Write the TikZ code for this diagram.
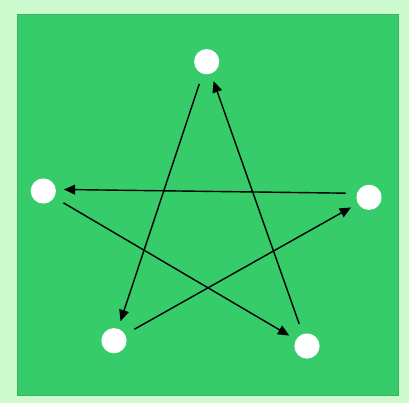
\documentclass[tikz,border=0pt]{standalone}
\usepackage{xcolor}
\usepackage{tikz}
\usetikzlibrary{arrows.meta}

\definecolor{panelbg}{RGB}{204,250,204}
\definecolor{fieldgreen}{RGB}{54,204,106}
\definecolor{fieldedge}{RGB}{60,180,100}

\begin{document}
\begin{tikzpicture}[
        x=0.025cm,
        y=-0.025cm,
        dot/.style={
            circle,
            fill=white,
            inner sep=0pt,
            minimum size=0.63cm
        },
        arrow/.style={
            -{Triangle[length=8pt, width=7pt]},
            line width=1pt,
            draw=black,
            shorten <=7.5pt,
            shorten >=5.5pt
        }
    ]
        % Background panels
        \useasboundingbox (0,0) rectangle (409,403);
        \fill [panelbg] (0,0) rectangle (409,403);
        \filldraw [fill=fieldgreen, draw=fieldedge, line width=0.6pt] (17,14) rectangle (398,395);

        % Points of the star
        \node (top) [dot] at (206.7,61.7) {};
        \node (left) [dot] at (43.3,191) {};
        \node (right) [dot] at (369,197.3) {};
        \node (botleft) [dot] at (114,340.7) {};
        \node (botright) [dot] at (307,346) {};

        % Connections
        \draw [arrow] (top) -- (botleft);
        \draw [arrow] (botleft) -- (right);
        \draw [arrow] ([yshift=0.1cm]right.west) -- ([yshift=0.04cm]left.east);
        \draw [arrow] (left) -- (botright);
        \draw [arrow] (botright) -- (top);
    \end{tikzpicture}
\end{document}
